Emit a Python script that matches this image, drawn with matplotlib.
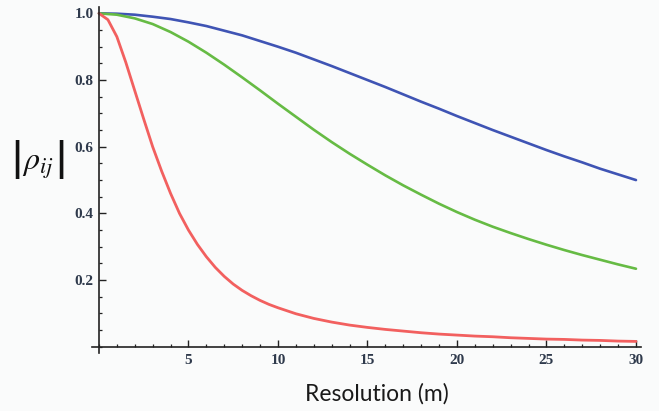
import matplotlib
matplotlib.use("Agg")
import matplotlib.pyplot as plt
from matplotlib.ticker import MultipleLocator, FixedLocator

plt.rcParams["mathtext.fontset"] = "stix"

# Resolution (m) sample points
res_fine = [0, 0.5, 1, 1.5, 2, 2.5, 3, 3.5, 4, 4.5, 5, 5.5, 6, 6.5, 7, 7.5,
            8, 8.5, 9, 9.5, 10, 11, 12, 13, 14, 15, 16, 17, 18, 19, 20, 21,
            22, 23, 24, 25, 26, 27, 28, 29, 30]
res = list(range(0, 31))

# |rho_ij| for the three cases
rho_blue = [1.000, 0.999, 0.996, 0.990, 0.983, 0.973, 0.962, 0.948, 0.934,
            0.917, 0.900, 0.882, 0.862, 0.842, 0.821, 0.800, 0.779, 0.757,
            0.735, 0.714, 0.692, 0.671, 0.650, 0.630, 0.610, 0.590, 0.571,
            0.553, 0.534, 0.517, 0.500]
rho_green = [1.000, 0.996, 0.985, 0.968, 0.944, 0.915, 0.882, 0.846, 0.808,
             0.769, 0.729, 0.690, 0.651, 0.614, 0.579, 0.546, 0.514, 0.484,
             0.456, 0.429, 0.404, 0.381, 0.360, 0.341, 0.323, 0.306, 0.290,
             0.275, 0.261, 0.247, 0.234]
rho_red = [1.000, 0.981, 0.930, 0.853, 0.768, 0.683, 0.600, 0.527, 0.460,
           0.400, 0.350, 0.307, 0.270, 0.238, 0.211, 0.188, 0.169, 0.153,
           0.139, 0.127, 0.117, 0.099, 0.085, 0.074, 0.065, 0.058, 0.052,
           0.047, 0.042, 0.038, 0.035, 0.032, 0.030, 0.027, 0.025, 0.023,
           0.022, 0.020, 0.019, 0.017, 0.016]

x_major = [5, 10, 15, 20, 25, 30]
x_labels = ["5", "10", "15", "20", "25", "30"]
y_major = [0.2, 0.4, 0.6, 0.8, 1.0]
y_labels = ["0.2", "0.4", "0.6", "0.8", "1.0"]

bg = "#fafbfb"
axis_col = "#222222"
tick_col = "#2f3a4c"

fig = plt.figure(figsize=(6.59, 4.11), dpi=100, facecolor=bg)
ax = fig.add_axes([0.1393, 0.1401, 0.8339, 0.8436], facecolor=bg)

ax.plot(res, rho_blue, color="#3f54b4", lw=1.9, solid_capstyle="round",
        solid_joinstyle="round")
ax.plot(res, rho_green, color="#66bb44", lw=1.9, solid_capstyle="round",
        solid_joinstyle="round")
ax.plot(res_fine, rho_red, color="#f2605f", lw=2.0, solid_capstyle="round",
        solid_joinstyle="round")

ax.set_xlim(-0.4, 30.3)
ax.set_ylim(-0.02, 1.02)

for side in ("top", "right"):
    ax.spines[side].set_visible(False)
ax.spines["left"].set_position(("data", 0))
ax.spines["bottom"].set_position(("data", 0))
for side in ("left", "bottom"):
    ax.spines[side].set_color(axis_col)
    ax.spines[side].set_linewidth(1.2)

ax.xaxis.set_major_locator(FixedLocator(x_major))
ax.set_xticklabels(x_labels)
ax.xaxis.set_minor_locator(MultipleLocator(1))
ax.yaxis.set_major_locator(FixedLocator(y_major))
ax.set_yticklabels(y_labels)
ax.yaxis.set_minor_locator(MultipleLocator(0.05))

ax.tick_params(which="major", direction="in", length=4.7, width=1.0,
               color=axis_col, labelcolor=tick_col, labelsize=11)
ax.tick_params(which="minor", direction="in", length=2.4, width=0.9,
               color=axis_col)
ax.tick_params(axis="x", which="major", pad=5)
ax.tick_params(axis="y", which="major", pad=4)
for lab in ax.get_xticklabels() + ax.get_yticklabels():
    lab.set_family("Liberation Serif")
    lab.set_fontweight("bold")

fig.text(0.572, 0.043, "Resolution (m)", family="Lato", fontsize=16.5,
         color="#1a1a1a", ha="center", va="center")

# |rho_ij| axis title: symbol plus tall thin bars on each side
fig.text(0.0575, 0.598, r"$\rho_{ij}$", fontsize=23, color="#111111",
         ha="center", va="center")
fig.text(0.0235, 0.600, r"$|$", fontsize=40, color="#111111",
         ha="center", va="center")
fig.text(0.0905, 0.600, r"$|$", fontsize=40, color="#111111",
         ha="center", va="center")

fig.savefig("out.png", dpi=100, facecolor=bg)
